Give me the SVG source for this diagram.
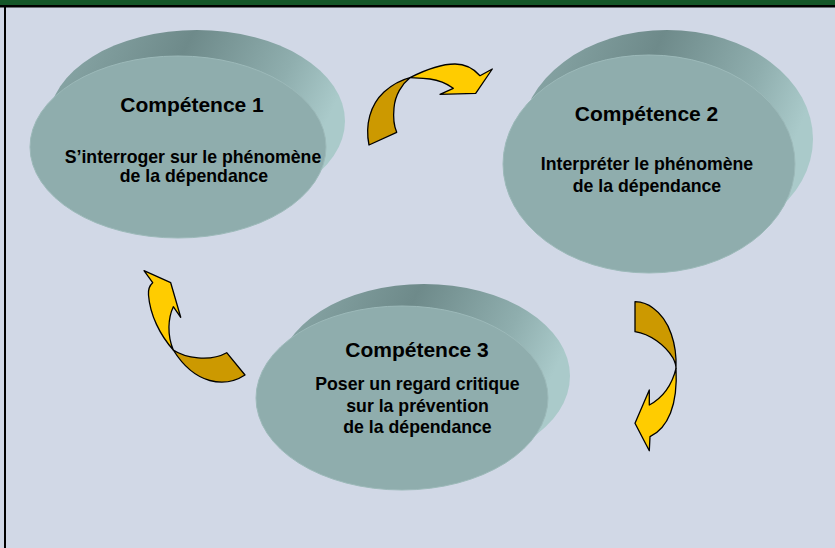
<svg xmlns="http://www.w3.org/2000/svg" width="835" height="548" viewBox="0 0 835 548">
<defs>
<linearGradient id="side" x1="0" y1="0" x2="1" y2="0.3">
<stop offset="0" stop-color="#8DABAB"/>
<stop offset="0.45" stop-color="#6E8A8A"/>
<stop offset="0.8" stop-color="#8FAEAE"/>
<stop offset="1" stop-color="#AACACA"/>
</linearGradient>
</defs>
<style>
.back{fill:url(#side);}
.front{fill:#8FADAD;stroke:#9CB9B9;stroke-width:1;}
.title{font-family:"Liberation Sans",Arial,sans-serif;font-weight:bold;font-size:21px;fill:#000;text-anchor:middle;}
.body{font-family:"Liberation Sans",Arial,sans-serif;font-weight:bold;font-size:17.7px;fill:#000;text-anchor:middle;}
.light{fill:#FFCC00;stroke:#000;stroke-width:1.3;stroke-linejoin:round;}
.dark{fill:#CC9900;stroke:#000;stroke-width:1.3;stroke-linejoin:round;}
</style>
<rect x="0" y="0" width="835" height="548" fill="#D1D8E6"/>
<rect x="0" y="0" width="835" height="5" fill="#145628"/>
<rect x="0" y="5" width="835" height="2.5" fill="#000"/>
<rect x="4" y="7" width="2" height="541" fill="#000"/>

<g id="node1">
<ellipse class="back" cx="197" cy="121" rx="148" ry="91"/>
<ellipse class="front" cx="178" cy="147" rx="148" ry="91"/>
<text class="title" x="192" y="112">Compétence 1</text>
<text class="body" x="193" y="162.5">S’interroger sur le phénomène</text>
<text class="body" x="194" y="182">de la dépendance</text>
</g>

<g id="node2">
<ellipse class="back" cx="667" cy="139" rx="146" ry="109"/>
<ellipse class="front" cx="649" cy="164" rx="146" ry="109"/>
<text class="title" x="646.5" y="121">Compétence 2</text>
<text class="body" x="647" y="170">Interpréter le phénomène</text>
<text class="body" x="647" y="191.5">de la dépendance</text>
</g>

<g id="node3">
<ellipse class="back" cx="424" cy="376" rx="146" ry="92"/>
<ellipse class="front" cx="402" cy="398" rx="146" ry="92"/>
<text class="title" x="417" y="357">Compétence 3</text>
<text class="body" x="417.5" y="390">Poser un regard critique</text>
<text class="body" x="417.5" y="411.5">sur la prévention</text>
<text class="body" x="417.5" y="433">de la dépendance</text>
</g>

<g id="connectors">
<g id="arrow1-2">
<path class="dark" d="M369,145 C365,125 370,105 384,92 C392,85 401,80 410,77.7 C402,84 395,95 394,108 C393,118 394,126 396.7,132.3 Z"/>
<path class="light" d="M410,77.7 C425,70 440,64 455,64 C465,64 474,69 480,75.7 L492.3,69 L475.7,93.3 L440,94.3 L453.3,88.3 C446,83 438,80 430,79 C422,78 416,78 410,77.7 Z"/>
</g>
<g id="arrow2-3">
<path class="dark" d="M635,301.7 L635,331.7 C650,334 665,345 673,358 C675,362 676,365 676,368.3 C677,345 670,320 653,308 C648,304 641,302 635,301.7 Z"/>
<path class="light" d="M676,368.3 C672,385 662,398 649.3,405 L649.3,390 L635,423.3 L649.3,450.7 L650,436.7 C668,428 678,405 676,368.3 Z"/>
</g>
<g id="arrow3-1">
<path class="dark" d="M173.3,350 C185,358 210,362 226.7,352.7 L245,375 C225,388 195,385 173.3,350 Z"/>
<path class="light" d="M144,270.7 L170.7,282.7 L180.7,317.3 L173.3,306.7 C168,318 167,335 173.3,350 C160,335 150,315 148.5,295 C148,289 150,285 152.7,282.7 Z"/>
</g>
</g>
</svg>
